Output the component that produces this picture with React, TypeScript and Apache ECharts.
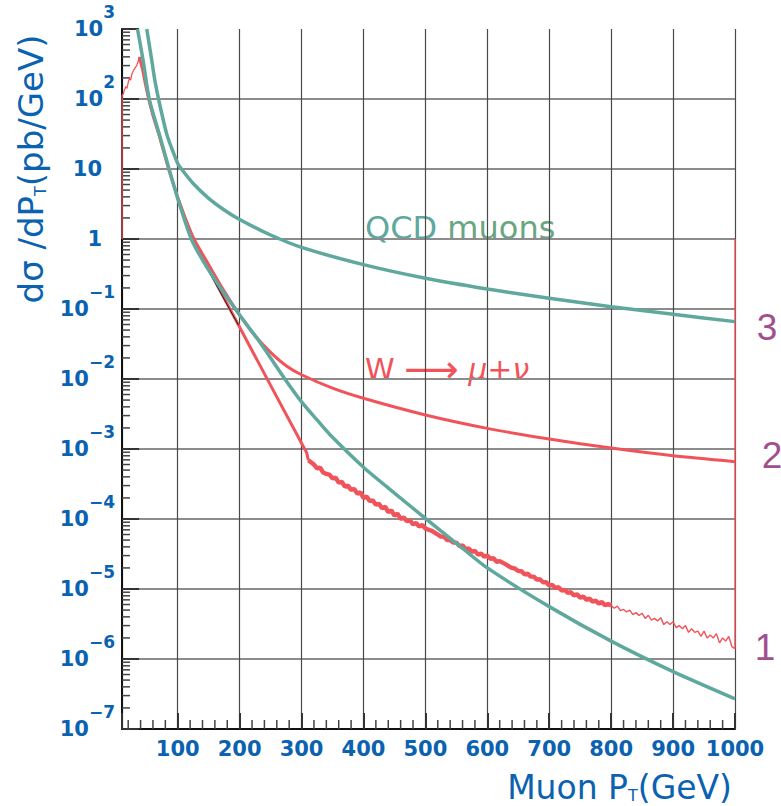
import React, { useEffect, useRef } from "react";
import * as echarts from "echarts";

// ---------- axis ranges / ticks ----------
const X_MIN = 10;
const X_MAX = 1000;
const Y_MIN = 1e-7;
const Y_MAX = 1e3;
const xTickValues = [100, 200, 300, 400, 500, 600, 700, 800, 900, 1000];
const yDecadeExponents = [-7, -6, -5, -4, -3, -2, -1, 0, 1, 2, 3];
const yMinorMultipliers = [2, 3, 4, 5, 6, 7, 8, 9];
const xMinorStep = 20;

// ---------- curve 3 : QCD muons (upper teal) ----------
const qcdX = [50, 58, 63, 69, 82, 91, 100, 106, 125, 150, 175, 200, 250, 300, 400, 500, 600, 700, 800, 900, 1000];
const qcdY = [1000, 360, 186, 100, 32, 19, 12, 10, 6.2, 3.8, 2.6, 1.9, 1.14, 0.76, 0.43, 0.275, 0.193, 0.142, 0.108, 0.084, 0.066];

// ---------- steep QCD curve (lower teal) ----------
const qcdSteepX = [35, 44, 54, 70, 86, 100, 122, 150, 193, 230, 250, 273, 300, 325, 346, 400, 450, 500, 550, 600, 700, 800, 900, 1000];
const qcdSteepY = [1000, 360, 100, 32, 10, 3.8, 1.0, 0.36, 0.1, 0.036, 0.02, 0.01, 4.7e-3, 2.6e-3, 1.6e-3, 5.5e-4, 2.35e-4, 1.02e-4, 4.5e-5, 2.0e-5, 5.6e-6, 1.8e-6, 6.6e-7, 2.7e-7];

// ---------- curve 2 : W -> mu + nu (smooth red) ----------
const wSmoothX = [100, 124, 150, 175, 200, 225, 250, 275, 300, 350, 400, 500, 600, 700, 800, 900, 1000];
const wSmoothY = [3.9, 1.1, 0.43, 0.18, 0.082, 0.0414, 0.024, 0.0155, 0.0115, 7.4e-3, 5.3e-3, 3.06e-3, 1.97e-3, 1.39e-3, 1.03e-3, 8.0e-4, 6.6e-4];

// ---------- thin dark line ----------
const thinX = [125, 198];
const thinY = [0.87, 0.059];

// ---------- curve 1 : W -> mu + nu histogram (noisy red) ----------
const wHist: [number, number][] = [
  [10, 1], [10, 112], [12, 118], [14, 135], [16, 150], [18, 142], [20, 172], [22, 198], [24, 186],
  [26, 228], [28, 250], [30, 268], [32, 285], [34, 305], [36, 340], [38, 400],
  [43, 270], [48, 160], [53, 100], [60, 58], [70, 30], [86, 9.5], [100, 3.9], [122, 1.0],
  [150, 0.37], [200, 0.055], [250, 8.1e-3], [305, 1.0e-3], [308, 9e-4], [311, 6.9e-4],
  [320, 6.0e-4], [325, 5.3e-4], [330, 5.4e-4], [335, 4.6e-4], [340, 4.4e-4], [345, 4.3e-4],
  [350, 3.8e-4], [355, 3.9e-4], [360, 3.3e-4], [365, 3.4e-4], [370, 2.9e-4], [375, 3.0e-4],
  [380, 2.6e-4], [385, 2.7e-4], [390, 2.3e-4], [395, 2.4e-4], [400, 2.0e-4], [405, 2.1e-4],
  [410, 1.8e-4], [415, 1.85e-4], [420, 1.6e-4], [425, 1.65e-4], [430, 1.42e-4], [435, 1.5e-4],
  [440, 1.25e-4], [445, 1.33e-4], [450, 1.12e-4], [455, 1.2e-4], [460, 1.0e-4], [465, 1.05e-4],
  [470, 9.3e-5], [475, 9.6e-5], [480, 8.4e-5], [485, 8.8e-5], [490, 7.8e-5], [495, 8.2e-5],
  [500, 7.3e-5], [510, 6.8e-5], [515, 6.4e-5], [520, 6.0e-5], [525, 5.6e-5], [530, 5.6e-5],
  [535, 5.0e-5], [540, 5.0e-5], [545, 4.6e-5], [550, 4.6e-5], [555, 4.1e-5], [560, 4.2e-5],
  [565, 3.7e-5], [570, 3.8e-5], [575, 3.4e-5], [580, 3.5e-5], [585, 3.1e-5], [590, 3.2e-5],
  [595, 2.9e-5], [600, 3.0e-5], [605, 2.7e-5], [610, 2.75e-5], [615, 2.45e-5], [620, 2.5e-5],
  [630, 2.25e-5], [635, 2.1e-5], [640, 2.0e-5], [645, 1.95e-5], [650, 1.8e-5], [655, 1.8e-5],
  [660, 1.62e-5], [665, 1.66e-5], [670, 1.5e-5], [675, 1.5e-5], [680, 1.36e-5], [685, 1.38e-5],
  [690, 1.25e-5], [695, 1.25e-5], [700, 1.12e-5], [705, 1.14e-5], [710, 1.04e-5], [715, 1.06e-5],
  [720, 9.5e-6], [725, 9.7e-6], [730, 8.8e-6], [735, 9.0e-6], [740, 8.1e-6], [745, 8.4e-6],
  [750, 7.5e-6], [755, 7.8e-6], [760, 7.0e-6], [765, 7.3e-6], [770, 6.6e-6], [775, 6.8e-6],
  [780, 6.2e-6], [785, 6.5e-6], [790, 5.9e-6], [795, 6.1e-6],
  [800, 5.8e-6], [805, 5.3e-6], [810, 5.7e-6], [815, 4.9e-6], [820, 5.1e-6], [825, 4.7e-6],
  [830, 5.0e-6], [835, 4.3e-6], [840, 4.6e-6], [845, 4.2e-6], [850, 4.5e-6], [855, 3.8e-6],
  [860, 4.2e-6], [865, 3.6e-6], [870, 3.8e-6], [875, 3.5e-6], [880, 3.9e-6], [885, 3.1e-6],
  [890, 3.4e-6], [895, 3.1e-6], [900, 3.4e-6], [905, 2.8e-6], [910, 3.0e-6], [915, 2.7e-6],
  [920, 3.0e-6], [925, 2.4e-6], [930, 2.7e-6], [935, 2.4e-6], [940, 2.5e-6], [945, 2.1e-6],
  [950, 2.5e-6], [955, 2.0e-6], [960, 2.2e-6], [965, 2.0e-6], [970, 2.3e-6], [975, 1.7e-6],
  [980, 2.0e-6], [985, 1.8e-6], [990, 2.1e-6], [995, 1.5e-6], [1000, 1.4e-6], [1000, 1],
];

// ---------- styling ----------
const FONT = '"DejaVu Sans", sans-serif';
const BLUE = "#0a62b0";
const TEAL = "#5fa89e";
const RED = "#f0545a";
const PURPLE = "#a0508c";
const GREEN = "#6aa583";

const zip = (xs: number[], ys: number[]) => xs.map((x, i) => [x, ys[i]]);

function yLabel(v: number): string {
  const e = Math.round(Math.log10(v));
  if (e === 0) return "{b|1}{gap| }";
  if (e === 1) return "{b|10}{gap| }";
  return "{b|10}{sup|" + (e < 0 ? "\u2212" + -e : String(e)) + "}";
}

export default function App() {
  const ref = useRef<HTMLDivElement>(null);

  useEffect(() => {
    if (!ref.current) return;
    const chart = echarts.init(ref.current, undefined, { renderer: "svg" });

    const yMinor: number[][] = [];
    yDecadeExponents.slice(0, -1).forEach((e) => {
      yMinorMultipliers.forEach((k) => yMinor.push([X_MIN, k * Math.pow(10, e)]));
    });
    const xMinor: number[][] = [];
    for (let v = xMinorStep; v < X_MAX; v += xMinorStep) {
      if (v % 100 !== 0) xMinor.push([v, Y_MIN]);
    }

    const rise = wHist.filter((p) => p[0] <= 38);
    const core = wHist.filter((p) => p[0] >= 38 && p[0] <= 311);
    const band = wHist.filter((p) => p[0] >= 311 && p[0] <= 800);
    const tail = wHist.filter((p) => p[0] >= 800);

    const lineSeries = (name: string, data: number[][], color: string, width: number, smooth = false) => ({
      type: "line",
      name,
      data,
      showSymbol: false,
      symbol: "none",
      smooth: smooth ? 0.25 : false,
      lineStyle: { color, width },
      silent: true,
    });

    const supStyle = {
      fontSize: 17,
      fontWeight: "bold",
      fontFamily: FONT,
      color: BLUE,
      verticalAlign: "top",
    };

    const option: any = {
      animation: false,
      backgroundColor: "#ffffff",
      grid: { left: 122, right: 46, top: 29, bottom: 77, containLabel: false, outerBoundsMode: "none" },
      xAxis: {
        type: "value",
        min: X_MIN,
        max: X_MAX,
        splitNumber: 10,
        axisLine: { show: true, onZero: false, lineStyle: { color: "#111", width: 2 } },
        axisTick: { show: true, inside: true, length: 16, lineStyle: { color: "#333", width: 2 } },
        axisLabel: {
          margin: 9,
          color: BLUE,
          fontFamily: FONT,
          fontWeight: "bold",
          fontSize: 21,
          formatter: (v: number) => (xTickValues.includes(Math.round(v)) ? String(Math.round(v)) : ""),
        },
        splitLine: { show: true, lineStyle: { color: "#4a4a4a", width: 1.2 } },
      },
      yAxis: {
        type: "log",
        logBase: 10,
        min: Y_MIN,
        max: Y_MAX,
        interval: 1,
        splitNumber: 10,
        axisLine: { show: true, onZero: false, lineStyle: { color: "#111", width: 2 } },
        axisTick: { show: true, inside: true, length: 17, lineStyle: { color: "#333", width: 2 } },
        axisLabel: {
          margin: 7,
          formatter: yLabel,
          rich: {
            b: { fontSize: 21, fontWeight: "bold", lineHeight: 52, fontFamily: FONT, color: BLUE, verticalAlign: "middle" },
            sup: supStyle,
            gap: { ...supStyle, width: 13 },
          },
        },
        splitLine: { show: true, showMaxLine: false, lineStyle: { color: "#8c8c8c", width: 2 } },
      },
      series: [
        {
          type: "custom",
          name: "y minor ticks",
          silent: true,
          clip: false,
          data: yMinor,
          renderItem: (_p: any, api: any) => {
            const c = api.coord([api.value(0), api.value(1)]);
            return {
              type: "line",
              shape: { x1: c[0], y1: c[1], x2: c[0] + 8, y2: c[1] },
              style: { stroke: "#444", lineWidth: 1.5 },
            };
          },
        },
        {
          type: "custom",
          name: "x minor ticks",
          silent: true,
          clip: false,
          data: xMinor,
          renderItem: (_p: any, api: any) => {
            const c = api.coord([api.value(0), api.value(1)]);
            return {
              type: "line",
              shape: { x1: c[0], y1: c[1], x2: c[0], y2: c[1] - 9 },
              style: { stroke: "#444", lineWidth: 1.5 },
            };
          },
        },
        lineSeries("W → μ+ν (1)", rise, RED, 1.3),
        lineSeries("W → μ+ν (1)", core, RED, 3),
        lineSeries("W → μ+ν (1)", band, RED, 4.4),
        lineSeries("W → μ+ν (1)", tail, RED, 1.4),
        lineSeries("W → μ+ν (2)", zip(wSmoothX, wSmoothY), RED, 3, true),
        lineSeries("thin", zip(thinX, thinY), "#222", 1),
        lineSeries("QCD (steep)", zip(qcdSteepX, qcdSteepY), TEAL, 3.5, true),
        lineSeries("QCD muons (3)", zip(qcdX, qcdY), TEAL, 3.5, true),
      ],
      graphic: [
        {
          type: "text",
          x: 31,
          y: 169,
          rotation: Math.PI / 2,
          style: {
            text: "{a|dσ /dP}{s|T}{a|(pb/GeV)}",
            align: "center",
            verticalAlign: "middle",
            rich: {
              a: { fontSize: 34, lineHeight: 34, fontFamily: FONT, fill: BLUE },
              s: { fontSize: 16, lineHeight: 6, verticalAlign: "bottom", fontFamily: FONT, fill: BLUE },
            },
          },
        },
        {
          type: "text",
          x: 732,
          y: 787,
          style: {
            text: "{a|Muon P}{s|T}{a|(GeV)}",
            align: "right",
            verticalAlign: "middle",
            rich: {
              a: { fontSize: 33, lineHeight: 33, fontFamily: FONT, fill: BLUE },
              s: { fontSize: 16, lineHeight: 6, verticalAlign: "bottom", fontFamily: FONT, fill: BLUE },
            },
          },
        },
        {
          type: "text",
          x: 365,
          y: 228,
          style: {
            text: "{q|QCD }{m|muons}",
            align: "left",
            verticalAlign: "middle",
            rich: {
              q: { fontSize: 32, fontFamily: FONT, fill: TEAL },
              m: { fontSize: 32, fontFamily: FONT, fill: GREEN },
            },
          },
        },
        {
          type: "text",
          x: 365,
          y: 369,
          style: {
            text: "{w|W }{a|⟶}{w| }{i|μ+ν}",
            align: "left",
            verticalAlign: "middle",
            rich: {
              w: { fontSize: 30, fontFamily: FONT, fill: RED },
              a: { fontSize: 38, fontFamily: FONT, fill: RED },
              i: { fontSize: 30, fontFamily: FONT, fontStyle: "italic", fill: RED },
            },
          },
        },
        {
          type: "text",
          x: 767,
          y: 327,
          style: { text: "3", fontSize: 37, fontFamily: '"Liberation Sans", Arial', fill: PURPLE, align: "center", verticalAlign: "middle" },
        },
        {
          type: "text",
          x: 772,
          y: 455,
          style: { text: "2", fontSize: 37, fontFamily: '"Liberation Sans", Arial', fill: PURPLE, align: "center", verticalAlign: "middle" },
        },
        {
          type: "text",
          x: 765,
          y: 647,
          style: { text: "1", fontSize: 37, fontFamily: '"Liberation Sans", Arial', fill: PURPLE, align: "center", verticalAlign: "middle" },
        },
      ],
    };

    chart.setOption(option);
    return () => chart.dispose();
  }, []);

  return (
    <div
      ref={ref}
      style={{ position: "absolute", left: 0, top: 0, width: 781, height: 806, background: "#fff" }}
    />
  );
}
